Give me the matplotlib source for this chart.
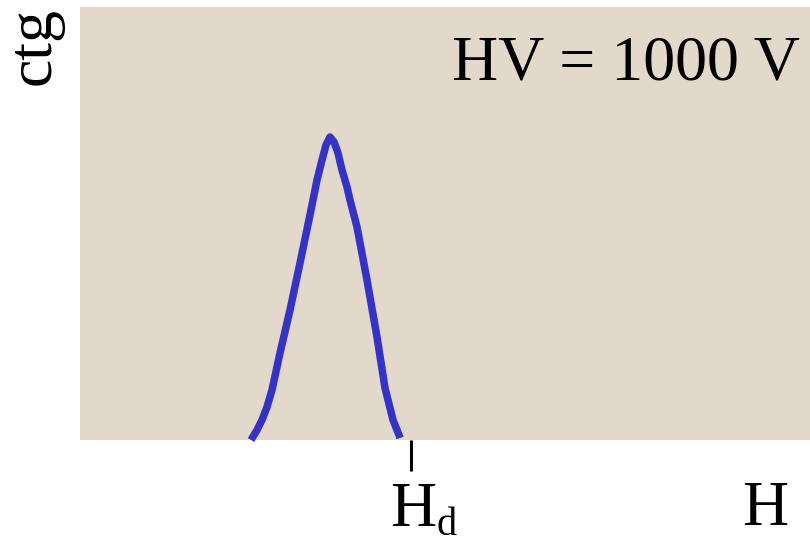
import numpy as np
import matplotlib
matplotlib.use('Agg')
import matplotlib.pyplot as plt

plt.rcParams['font.family'] = ['Liberation Serif', 'DejaVu Serif']

# pulse height spectrum (arbitrary units)
h_vals = [171, 177, 182, 187, 192, 200, 210, 220, 231, 237, 242, 246, 250,
          254, 258, 262, 267, 270, 277, 287, 297, 305, 313, 319, 320]
counts = [0, 10, 20, 33, 50, 87, 130, 177, 230, 260, 280, 295, 303,
          298, 287, 270, 253, 240, 213, 160, 103, 52, 20, 5, 2]
h_d = 331
hv_label = 'HV = 1000 V'

W, H = 810, 545
fig = plt.figure(figsize=(W / 100, H / 100), dpi=100)
ax = fig.add_axes([80 / W, (H - 440) / H, 730 / W, 433 / H])
ax.set_facecolor('#e2d9cb')
for s in ax.spines.values():
    s.set_visible(False)

ax.plot(h_vals, counts, color='#3333cc', lw=5.4, solid_capstyle='butt',
        solid_joinstyle='round', clip_on=False)

ax.set_xlim(0, 730)
ax.set_ylim(0, 433)
ax.set_yticks([])
ax.set_xticks([h_d])
ax.set_xticklabels([''])
ax.tick_params(axis='x', direction='out', length=22, width=2.2, color='black')

fs = 46
# H with subscript d under the tick
fig.text(390 / W, 1 - 526 / H, 'H', fontsize=fs, va='baseline', ha='left')
fig.text(436 / W, 1 - 535 / H, 'd', fontsize=29, va='baseline', ha='left')
fig.text(742 / W, 1 - 525 / H, 'H', fontsize=fs, va='baseline', ha='left')
fig.text(800 / W, 1 - 80 / H, hv_label, fontsize=fs, va='baseline', ha='right')
fig.text(50 / W, 1 - 7 / H, 'ctg', fontsize=fs, rotation=90, rotation_mode='anchor',
         ha='right', va='baseline')

fig.savefig('out.png', dpi=100)
